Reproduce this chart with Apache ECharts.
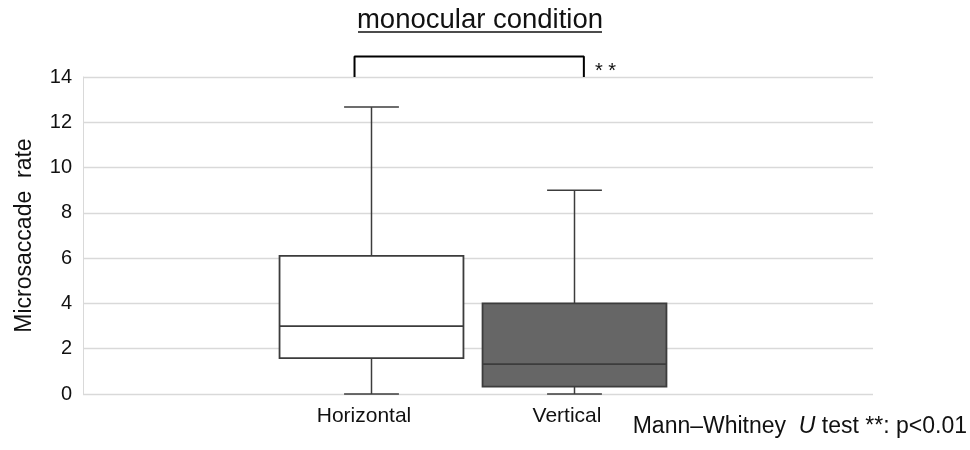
<!DOCTYPE html>
<html>
<head>
<meta charset="utf-8">
<script src="https://cdn.jsdelivr.net/npm/echarts@6/dist/echarts.min.js"></script>
<style>
html,body{margin:0;padding:0;background:#fff;}
#main{width:970px;height:450px;}
</style>
</head>
<body>
<div id="main"></div>
<script>
// ---- data ----
const categories = ['Horizontal', 'Vertical'];
const minValues    = [0, 0];
const q1Values     = [1.58, 0.33];
const medianValues = [3.0, 1.32];
const q3Values     = [6.1, 4.0];
const maxValues    = [12.67, 9.0];
const boxColors    = ['#ffffff', '#666666'];
const yTicks = { min: 0, max: 14, interval: 2 };
// significance bracket (x as fraction of plot width, y in data units)
const bracketX = [0.3437, 0.634];
const bracketY = [14, 14.91];
const titleText = 'monocular condition';
const yName = 'Microsaccade  rate';

const FONT = "'Liberation Sans', Arial, sans-serif";
const BOX_FRAC = 0.906, CAP_FRAC = 0.27;
const STROKE = '#3c3c3c';

const boxData = categories.map((c, i) => [i, minValues[i], q1Values[i], medianValues[i], q3Values[i], maxValues[i]]);

const chart = echarts.init(document.getElementById('main'), null, {renderer: 'canvas'});

const option = {
  animation: false,
  backgroundColor: '#ffffff',
  grid: [
    {left: 83, width: 790, top: 77, height: 317},
    {left: 270, width: 406, top: 77, height: 317}
  ],
  xAxis: [
    {gridIndex: 0, type: 'value', min: 0, max: 1, show: false},
    {gridIndex: 1, type: 'category', data: categories,
     axisLine: {show: false}, axisTick: {show: false},
     axisLabel: {color: '#111', fontSize: 21, fontFamily: FONT, margin: 12, padding: [0, 15, 0, 0]}}
  ],
  yAxis: [
    {gridIndex: 0, type: 'value', min: yTicks.min, max: yTicks.max, interval: yTicks.interval,
     name: yName, nameLocation: 'middle', nameGap: 47,
     nameTextStyle: {color: '#111', fontSize: 23, fontFamily: FONT},
     axisLine: {show: true, lineStyle: {color: '#d9d9d9', width: 1}},
     axisTick: {show: false},
     axisLabel: {color: '#111', fontSize: 20, fontFamily: FONT, margin: 11},
     splitLine: {show: true, lineStyle: {color: '#d9d9d9', width: 1.3}}},
    {gridIndex: 1, type: 'value', min: yTicks.min, max: yTicks.max, show: false}
  ],
  series: [
    {
      type: 'custom',
      xAxisIndex: 1, yAxisIndex: 1,
      data: boxData,
      encode: {x: 0, y: [1, 2, 3, 4, 5]},
      renderItem: function (params, api) {
        const idx = api.value(0);
        const pMin = api.coord([idx, api.value(1)]);
        const pQ1 = api.coord([idx, api.value(2)]);
        const pMed = api.coord([idx, api.value(3)]);
        const pQ3 = api.coord([idx, api.value(4)]);
        const pMax = api.coord([idx, api.value(5)]);
        const band = api.size([1, 0])[0];
        const bw = band * BOX_FRAC, cw = band * CAP_FRAC;
        const cx = pMed[0];
        const ls = {stroke: STROKE, lineWidth: 1.5, fill: null};
        return {
          type: 'group',
          children: [
            {type: 'line', shape: {x1: cx, y1: pQ3[1], x2: cx, y2: pMax[1]}, style: ls},
            {type: 'line', shape: {x1: cx - cw / 2, y1: pMax[1], x2: cx + cw / 2, y2: pMax[1]}, style: ls},
            {type: 'line', shape: {x1: cx, y1: pQ1[1], x2: cx, y2: pMin[1]}, style: ls},
            {type: 'line', shape: {x1: cx - cw / 2, y1: pMin[1], x2: cx + cw / 2, y2: pMin[1]}, style: ls},
            {type: 'rect', shape: {x: cx - bw / 2, y: pQ3[1], width: bw, height: pQ1[1] - pQ3[1]},
             style: {fill: boxColors[idx], stroke: STROKE, lineWidth: 1.8}},
            {type: 'line', shape: {x1: cx - bw / 2, y1: pMed[1], x2: cx + bw / 2, y2: pMed[1]},
             style: {stroke: STROKE, lineWidth: 1.8}}
          ]
        };
      }
    },
    {
      type: 'line',
      xAxisIndex: 0, yAxisIndex: 0,
      clip: false,
      symbol: 'none',
      lineStyle: {color: '#000', width: 2},
      data: [[bracketX[0], bracketY[0]], [bracketX[0], bracketY[1]], [bracketX[1], bracketY[1]], [bracketX[1], bracketY[0]]],
      z: 5
    }
  ],
  graphic: [
    {type: 'text', x: 480, y: 6,
     style: {text: titleText, font: '27.5px ' + FONT, fill: '#111', textAlign: 'center', textVerticalAlign: 'top'}},
    {type: 'line', shape: {x1: 358, y1: 32, x2: 602, y2: 32}, style: {stroke: '#111', lineWidth: 1.5}},
    {type: 'text', x: 595, y: 61, style: {text: '* *', font: '20px ' + FONT, fill: '#111'}},
    {type: 'text', right: 3, top: 415,
     style: {
       text: '{a|Mann–Whitney  }{u|U}{a| test **: p<0.01}',
       rich: {
         a: {font: '23px ' + FONT, fill: '#111'},
         u: {font: 'italic 23px ' + FONT, fill: '#111'}
       }
     }}
  ]
};
chart.setOption(option);
</script>
</body>
</html>
